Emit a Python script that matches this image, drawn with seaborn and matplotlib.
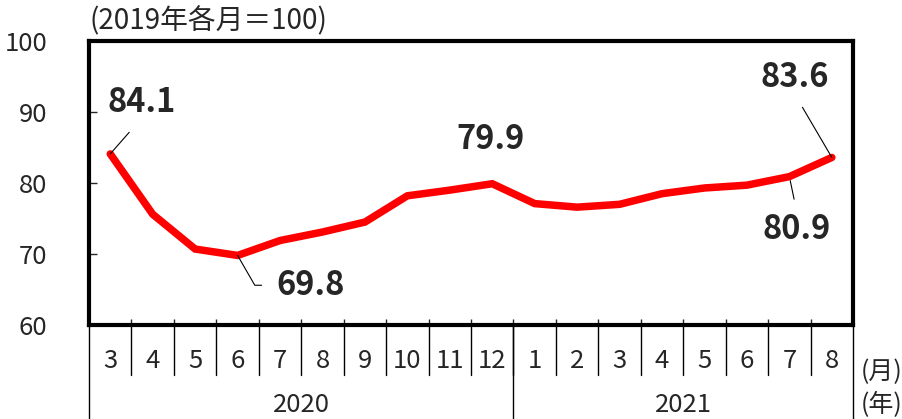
import numpy as np
import pandas as pd
import matplotlib
matplotlib.use("Agg")
import matplotlib.pyplot as plt
import matplotlib.transforms as mtransforms
import seaborn as sns

# data (2019 same month = 100)
months = ["3", "4", "5", "6", "7", "8", "9", "10", "11", "12",
          "1", "2", "3", "4", "5", "6", "7", "8"]
years = ["2020", "2021"]
year_len = [10, 8]
index_vals = [84.1, 75.6, 70.7, 69.8, 71.9, 73.1, 74.5, 78.2, 79.0, 79.9,
              77.1, 76.6, 77.0, 78.5, 79.3, 79.7, 80.9, 83.6]
title_txt = "(2019年各月＝100)"
unit_month = "(月)"
unit_year = "(年)"

sns.set_theme(style="white")
plt.rcParams["font.family"] = ["Noto Sans CJK JP", "DejaVu Sans"]

df = pd.DataFrame({"pos": np.arange(len(months)), "val": index_vals})

fig = plt.figure(figsize=(9.03, 4.19), dpi=100)
ax = fig.add_axes([0.0986, 0.2243, 0.8461, 0.6778])

sns.lineplot(data=df, x="pos", y="val", ax=ax, color="#ff0000", lw=5.4,
             solid_joinstyle="miter", legend=False)

ax.set_xlim(-0.5, len(months) - 0.5)
ax.set_ylim(60, 100)
ax.set_yticks([60, 70, 80, 90, 100])
ax.tick_params(axis="y", direction="in", length=6, width=1, pad=30,
               labelsize=18.5, left=True)
ax.set_xticks(np.arange(len(months) - 1) + 0.5)
ax.set_xticklabels([])
ax.tick_params(axis="x", direction="in", length=4, width=1, bottom=True)
ax.set_xlabel("")
ax.set_ylabel("")
for s in ax.spines.values():
    s.set_linewidth(3)
    s.set_color("black")

ax.text(0, 1.015, title_txt, transform=ax.transAxes, ha="left", va="bottom",
        fontsize=20)

# category axis below the plot
tr = mtransforms.blended_transform_factory(ax.transData, ax.transAxes)
for i, m in enumerate(months):
    ax.text(i, -0.127, m, transform=tr, ha="center", va="center", fontsize=18.5)
for b in np.arange(len(months) - 1) + 0.5:
    ax.plot([b, b], [0, -0.176], transform=tr, color="black", lw=1, clip_on=False)
start = -0.5
for y, n in zip(years, year_len):
    ax.plot([start, start], [0, -0.34], transform=tr, color="black", lw=1, clip_on=False)
    ax.text(start + n / 2, -0.282, y, transform=tr, ha="center", va="center", fontsize=18.5)
    start += n
ax.plot([start, start], [0, -0.34], transform=tr, color="black", lw=1, clip_on=False)
ax.text(1.037, -0.165, unit_month, transform=ax.transAxes, ha="center", va="center",
        fontsize=18)
ax.text(1.037, -0.282, unit_year, transform=ax.transAxes, ha="center", va="center",
        fontsize=18)

# value labels
lead = dict(arrowstyle="-", color="black", lw=0.8, shrinkA=2, shrinkB=0)
ann = dict(fontsize=23.5, fontweight="bold", ha="center", va="center")
ax.annotate(f"{index_vals[0]:.1f}", xy=(0, index_vals[0]), xytext=(0.73, 91.4),
            arrowprops=dict(lead, relpos=(0.5, 0.0), shrinkA=10), **ann)
ax.annotate(f"{index_vals[3]:.1f}", xy=(3, index_vals[3]), xytext=(4.71, 65.6),
            arrowprops=dict(lead, relpos=(0.0, 0.5), shrinkA=8,
                            connectionstyle="angle,angleA=0,angleB=-60,rad=0"), **ann)
ax.annotate(f"{index_vals[9]:.1f}", xy=(9, index_vals[9]), xytext=(8.95, 86.1), **ann)
ax.annotate(f"{index_vals[17]:.1f}", xy=(17, index_vals[17]), xytext=(16.13, 94.8),
            arrowprops=dict(lead, relpos=(0.5, 0.0), shrinkA=8), **ann)
ax.annotate(f"{index_vals[16]:.1f}", xy=(16, index_vals[16]), xytext=(16.18, 73.4),
            arrowprops=dict(lead, relpos=(0.5, 1.0), shrinkA=8, shrinkB=3), **ann)

fig.savefig("out.png", dpi=100)
plt.close(fig)
